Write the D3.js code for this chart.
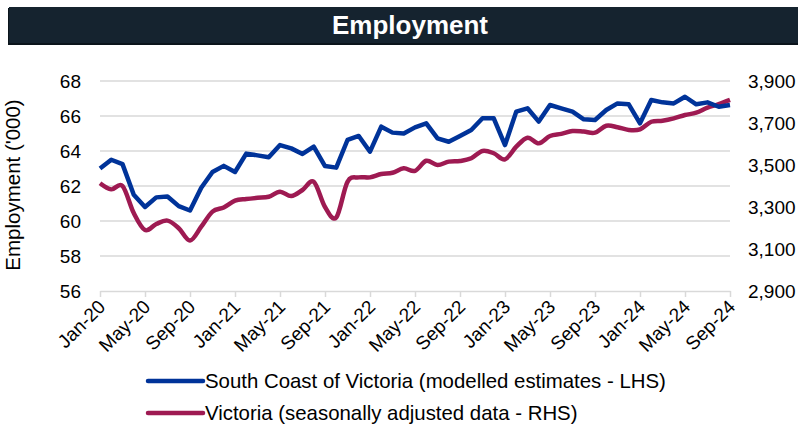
<!DOCTYPE html>
<html>
<head>
    <meta charset="utf-8">
    <title>Employment</title>
    <script src="https://cdnjs.cloudflare.com/ajax/libs/d3/7.8.5/d3.min.js"></script>
    <style>
        body {
            margin: 0;
            background: white;
            font-family: "Liberation Sans", Arial, sans-serif;
        }
    </style>
</head>
<body>
    <div id="chart"></div>

    <script>
        const months = [
            "Jan-20", "Feb-20", "Mar-20", "Apr-20", "May-20", "Jun-20", "Jul-20", "Aug-20", "Sep-20", "Oct-20", "Nov-20", "Dec-20",
            "Jan-21", "Feb-21", "Mar-21", "Apr-21", "May-21", "Jun-21", "Jul-21", "Aug-21", "Sep-21", "Oct-21", "Nov-21", "Dec-21",
            "Jan-22", "Feb-22", "Mar-22", "Apr-22", "May-22", "Jun-22", "Jul-22", "Aug-22", "Sep-22", "Oct-22", "Nov-22", "Dec-22",
            "Jan-23", "Feb-23", "Mar-23", "Apr-23", "May-23", "Jun-23", "Jul-23", "Aug-23", "Sep-23", "Oct-23", "Nov-23", "Dec-23",
            "Jan-24", "Feb-24", "Mar-24", "Apr-24", "May-24", "Jun-24", "Jul-24", "Aug-24", "Sep-24"
        ];

        // South Coast of Victoria, '000 (LHS)
        const southCoast = [
            63.0, 63.5, 63.25, 61.5, 60.8, 61.35, 61.4, 60.85, 60.6, 61.9, 62.8, 63.15,
            62.8, 63.85, 63.75, 63.64, 64.34, 64.15, 63.83, 64.25, 63.14, 63.05, 64.63, 64.86,
            63.96, 65.39, 65.05, 65.0, 65.35, 65.58, 64.72, 64.53, 64.86, 65.2, 65.87, 65.87,
            64.34, 66.25, 66.44, 65.68, 66.63, 66.44, 66.25, 65.81, 65.77, 66.34, 66.72, 66.67,
            65.58, 66.91, 66.78, 66.72, 67.1, 66.67, 66.78, 66.53, 66.63
        ];

        // Victoria, '000 (RHS)
        const victoria = [
            3413, 3384, 3400, 3271, 3190, 3219, 3235, 3199, 3140, 3206, 3278, 3298,
            3330, 3338, 3344, 3349, 3373, 3352, 3381, 3420, 3300, 3250, 3420, 3441,
            3441, 3457, 3463, 3484, 3472, 3520, 3500, 3516, 3519, 3532, 3567, 3556,
            3527, 3587, 3630, 3603, 3638, 3648, 3662, 3659, 3654, 3687, 3680, 3667,
            3670, 3706, 3711, 3722, 3738, 3749, 3773, 3790, 3810
        ];

        const leftTicks = [56, 58, 60, 62, 64, 66, 68];
        const rightTicks = [2900, 3100, 3300, 3500, 3700, 3900];
        const tickMonths = months.filter((m, i) => i % 4 === 0);

        const legendItems = [
            { label: "South Coast of Victoria (modelled estimates - LHS)", color: "#003399" },
            { label: "Victoria (seasonally adjusted data - RHS)", color: "#9E1A52" }
        ];

        const width = 798;
        const height = 432;
        const plot = { left: 100, right: 730, top: 81, bottom: 291 };

        const svg = d3.select("#chart")
            .append("svg")
            .attr("width", width)
            .attr("height", height);

        svg.append("rect").attr("width", width).attr("height", height).attr("fill", "white");

        // title bar
        svg.append("rect")
            .attr("x", 8).attr("y", 8)
            .attr("width", 790).attr("height", 37)
            .attr("fill", "#0b141b");
        svg.append("rect")
            .attr("x", 9).attr("y", 7)
            .attr("width", 789).attr("height", 36)
            .attr("fill", "#15232f");
        svg.append("text")
            .attr("x", 410).attr("y", 34)
            .attr("text-anchor", "middle")
            .attr("fill", "white")
            .attr("font-size", "26px")
            .attr("font-weight", "bold")
            .text("Employment");

        const x = d3.scalePoint()
            .domain(months)
            .range([plot.left, plot.right]);

        const yLeft = d3.scaleLinear()
            .domain([56, 68])
            .range([plot.bottom, plot.top]);

        const yRight = d3.scaleLinear()
            .domain([2900, 3900])
            .range([plot.bottom, plot.top]);

        // gridlines from left axis
        svg.append("g")
            .selectAll("line")
            .data(leftTicks.slice(1))
            .join("line")
            .attr("x1", plot.left).attr("x2", plot.right)
            .attr("y1", d => yLeft(d)).attr("y2", d => yLeft(d))
            .attr("stroke", "#d9d9d9")
            .attr("stroke-width", 1.5);

        // x axis
        const xAxis = svg.append("g")
            .attr("transform", `translate(0,${plot.bottom})`)
            .call(d3.axisBottom(x).tickValues(tickMonths).tickSize(6).tickSizeOuter(0));
        xAxis.select(".domain").attr("stroke", "#d9d9d9").attr("stroke-width", 1.5);
        xAxis.selectAll(".tick line").attr("stroke", "#d9d9d9").attr("stroke-width", 1.5);
        xAxis.selectAll(".tick text")
            .attr("font-family", "Liberation Sans, Arial, sans-serif")
            .attr("font-size", "19px")
            .attr("fill", "#000")
            .attr("text-anchor", "end")
            .attr("transform", "translate(-4,7) rotate(-45)")
            .attr("x", 0).attr("y", 0).attr("dy", "0.75em");

        // left axis
        const leftAxis = svg.append("g")
            .attr("transform", `translate(${plot.left},0)`)
            .call(d3.axisLeft(yLeft).tickValues(leftTicks).tickSize(0).tickPadding(19));
        leftAxis.select(".domain").remove();
        leftAxis.selectAll(".tick text")
            .attr("font-family", "Liberation Sans, Arial, sans-serif")
            .attr("font-size", "19px")
            .attr("fill", "#000");

        // right axis
        const rightAxis = svg.append("g")
            .attr("transform", `translate(${plot.right},0)`)
            .call(d3.axisRight(yRight).tickValues(rightTicks).tickFormat(d3.format(",")).tickSize(0).tickPadding(18));
        rightAxis.select(".domain").remove();
        rightAxis.selectAll(".tick text")
            .attr("font-family", "Liberation Sans, Arial, sans-serif")
            .attr("font-size", "19px")
            .attr("fill", "#000");

        svg.append("text")
            .attr("transform", "translate(20,185) rotate(-90)")
            .attr("text-anchor", "middle")
            .attr("font-size", "20.5px")
            .text("Employment ('000)");

        // lines
        const southLine = d3.line()
            .x((d, i) => x(months[i]))
            .y(d => yLeft(d));

        const vicLine = d3.line()
            .x((d, i) => x(months[i]))
            .y(d => yRight(d))
            .curve(d3.curveCardinal.tension(0));

        svg.append("path")
            .datum(victoria)
            .attr("d", vicLine)
            .attr("fill", "none")
            .attr("stroke", legendItems[1].color)
            .attr("stroke-width", 4.5)
            .attr("stroke-linejoin", "round");

        svg.append("path")
            .datum(southCoast)
            .attr("d", southLine)
            .attr("fill", "none")
            .attr("stroke", legendItems[0].color)
            .attr("stroke-width", 4.5)
            .attr("stroke-linejoin", "round");

        // legend
        const legend = svg.append("g")
            .selectAll("g")
            .data(legendItems)
            .join("g")
            .attr("transform", (d, i) => `translate(148,${381 + i * 32})`);

        legend.append("line")
            .attr("x1", 0).attr("x2", 55)
            .attr("stroke", d => d.color)
            .attr("stroke-width", 4.5)
            .attr("stroke-linecap", "round");

        legend.append("text")
            .attr("x", 57).attr("y", 0)
            .attr("dy", "0.35em")
            .attr("font-size", "20.4px")
            .text(d => d.label);
    </script>
</body>
</html>
